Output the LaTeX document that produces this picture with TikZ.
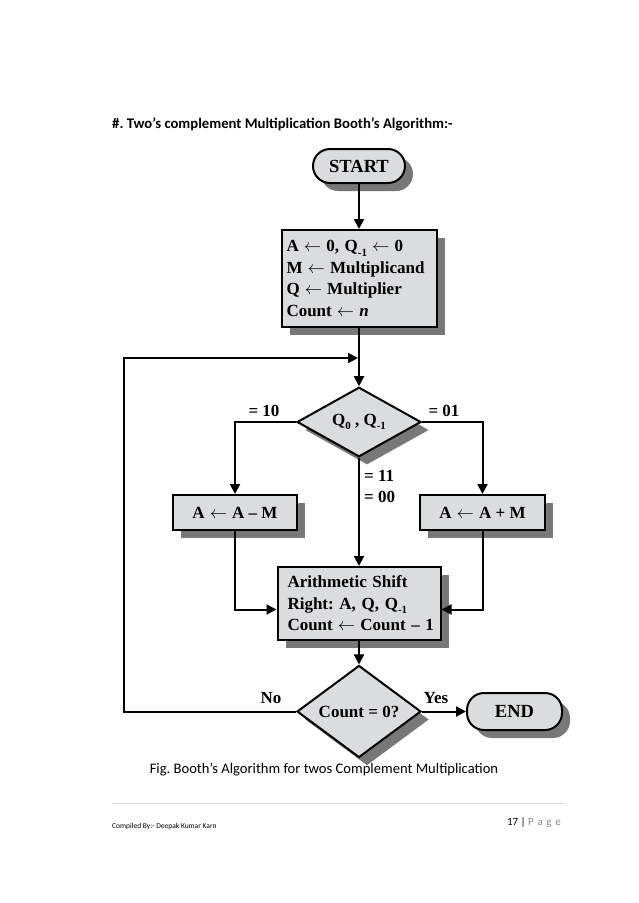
\documentclass[tikz,border=0pt]{standalone}
\usepackage{fontspec}
\setmainfont{Liberation Serif}
\newfontfamily\calibri{Carlito}
\usetikzlibrary{shapes.geometric,arrows.meta,shadows}
\definecolor{boxgray}{RGB}{218,220,222}
\definecolor{shadowgray}{RGB}{120,120,120}
\definecolor{rulegray}{RGB}{215,215,215}
\definecolor{pagegray}{RGB}{140,140,140}
\frenchspacing
\newcommand{\lowsub}[1]{\raisebox{-0.55ex}{\fontsize{11}{11}\selectfont #1}}
\newcommand{\larr}{\hspace{0.3em}$\leftarrow$\hspace{0.3em}}
\begin{document}
\begin{tikzpicture}[x=1pt,y=-1pt,
  shad/.style={drop shadow={shadow xshift=8pt,shadow yshift=-8pt,fill=shadowgray,opacity=1}},
  flowbox/.style={draw=black,line width=2pt,fill=boxgray,shad,inner sep=0pt,
    font=\frenchspacing\bfseries\fontsize{17}{21.5}\selectfont},
  term/.style={flowbox,rounded corners=17pt,font=\bfseries\fontsize{18.5}{21.5}\selectfont},
  decide/.style={flowbox,diamond,minimum width=124pt,minimum height=51pt},
  arr/.style={line width=2pt,-{Triangle[length=10pt,width=10pt]}},
  lbl/.style={font=\bfseries\fontsize{17}{20}\selectfont,inner sep=0pt}]
\useasboundingbox[fill=white] (0,0) rectangle (638,903);

\node[anchor=west,inner sep=0pt,font=\calibri\bfseries\fontsize{14.7}{17}\selectfont] (title) at (112,124)
  {\#. Two’s complement Multiplication Booth’s Algorithm:-};

\node[term,minimum width=92pt,minimum height=34pt] (start) at (359,166) {START};
\node[flowbox,minimum height=97pt,text width=145pt,inner xsep=5pt,align=left] (init) at (359,278.5)
  {\mbox{A\larr 0, Q\lowsub{-1}\larr 0}\\ \mbox{M\larr Multiplicand}\\ \mbox{Q\larr Multiplier}\\ \mbox{Count\larr\textit{n}}};
\node[decide] (d1) at (359,422) {Q\lowsub{0} , Q\lowsub{-1}};
\node[flowbox,minimum width=124pt,minimum height=35pt] (amm) at (235,512.5) {A\larr A – M};
\node[flowbox,minimum width=125pt,minimum height=35pt] (apm) at (482.5,512.5) {A\larr A + M};
\node[flowbox,minimum height=73pt,text width=143pt,inner xsep=10pt,align=left] (asr) at (359,603.5)
  {\mbox{Arithmetic Shift}\\ \mbox{Right: A, Q, Q\lowsub{-1}}\\ \mbox{Count\larr Count – 1}};
\node[decide] (d2) at (359,711.5) {Count = 0?};
\node[term,minimum width=95pt,minimum height=37pt] (endn) at (514.5,711.5) {END};

\coordinate (join) at (359,358);
\coordinate (loopc) at (124,358);

\draw[arr] (start) -- (init);
\draw[arr] (init) -- (d1);
\draw[arr] (d1.west) -| (amm.north);
\draw[arr] (d1.east) -| (apm.north);
\draw[arr] (d1.south) -- (asr.north);
\draw[arr] (amm.south) |- ([yshift=-6pt]asr.west);
\draw[arr] (apm.south) |- ([yshift=-6pt]asr.east);
\draw[arr] (asr) -- (d2);
\draw[arr] (d2.east) -- (endn.west);
\draw[arr,shorten >=1pt] (d2.west) -| (loopc) -- (join);

\node[lbl] (l10) at (264,411) {= 10};
\node[lbl] (l01) at (444,411) {= 01};
\node[lbl,anchor=west] (l11) at (364,476) {= 11};
\node[lbl,anchor=west] (l00) at (364,497) {= 00};
\node[lbl] (lno) at (271,698) {No};
\node[lbl] (lyes) at (436,698) {Yes};

\node[inner sep=0pt,font=\calibri\fontsize{14.6}{17}\selectfont] (cap) at (324,770)
  {Fig. Booth’s Algorithm for twos Complement Multiplication};

\coordinate (rl) at (112,803);
\coordinate (rr) at (565,803);
\draw[rulegray,line width=0.6pt] (rl) -- (rr);
\node[anchor=east,inner sep=0pt,font=\calibri\fontsize{11}{13}\selectfont] (pg) at (561,822)
  {17 | \textcolor{pagegray}{P\,\,a\,\,g\,\,e}};
\node[anchor=west,inner sep=0pt,font=\calibri\fontsize{7.5}{9}\selectfont] (cb) at (112,826)
  {Compiled By:- Deepak Kumar Karn};
\end{tikzpicture}
\end{document}
